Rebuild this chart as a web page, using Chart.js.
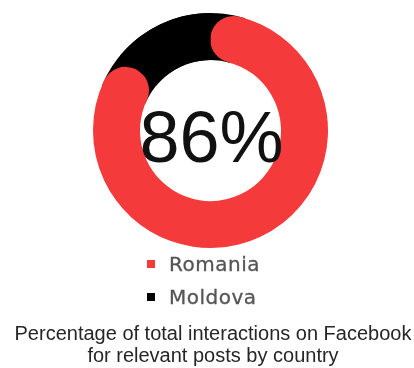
<!DOCTYPE html>
<html lang="en">
<head>
  <meta charset="UTF-8">
  <title>Facebook interactions by country</title>
  <script src="https://cdn.jsdelivr.net/npm/chart.js"></script>
  <style>
    body { margin: 0; background: #fff; }
    #wrap { position: relative; width: 414px; height: 368px; overflow: hidden; }
    #shareChart { position: absolute; left: 0; top: 0; }
    #legend { position: absolute; left: 0; top: 247.5px; width: 414px; }
    .legend-row { height: 33px; display: flex; align-items: center; padding-left: 147px; }
    .legend-box { width: 8px; height: 8px; margin-right: 14px; }
    .legend-text { font: 20px "DejaVu Sans", sans-serif; letter-spacing: 0.5px; color: #555; -webkit-text-stroke: 0.3px #555; }
    #caption { position: absolute; left: 0; top: 322px; width: 414px; box-sizing: border-box; padding-left: 12px;
      text-align: center; font: 20px "Liberation Sans", Arial, sans-serif; line-height: 22px; color: #262626; white-space: nowrap; }
  </style>
</head>
<body>
  <div id="wrap">
    <canvas id="shareChart" width="414" height="261"></canvas>
    <div id="legend"></div>
    <div id="caption">Percentage of total interactions on Facebook<br>for relevant posts by country</div>
  </div>

  <script>
    const countries = ['Romania', 'Moldova'];
    const shares = [86, 14];
    const colors = ['#f43a3a', '#000000'];

    // dark track under the small slice so the rounded ends of the big slice sit on it
    const trackPlugin = {
      id: 'track',
      beforeDatasetsDraw(chart) {
        const meta = chart.getDatasetMeta(0);
        const small = meta.data[1];
        if (!small) return;
        const { x, y, innerRadius, outerRadius, startAngle, endAngle } = small.getProps(['x', 'y', 'innerRadius', 'outerRadius', 'startAngle', 'endAngle'], true);
        const pad = (outerRadius - innerRadius) / 2 / ((outerRadius + innerRadius) / 2) * 1.2;
        const ctx = chart.ctx;
        ctx.save();
        ctx.beginPath();
        ctx.arc(x, y, outerRadius, startAngle - pad, endAngle + pad);
        ctx.arc(x, y, innerRadius, endAngle + pad, startAngle - pad, true);
        ctx.closePath();
        ctx.fillStyle = colors[1];
        ctx.fill();
        ctx.restore();
      }
    };

    // big percentage in the hole
    const centerText = {
      id: 'centerText',
      afterDraw(chart) {
        const arc = chart.getDatasetMeta(0).data[0];
        const total = shares.reduce((a, b) => a + b, 0);
        const ctx = chart.ctx;
        ctx.save();
        ctx.font = '72px "Liberation Sans", Arial, sans-serif';
        ctx.fillStyle = '#111';
        ctx.textAlign = 'center';
        ctx.textBaseline = 'alphabetic';
        ctx.fillText(Math.round(shares[0] / total * 100) + '%', arc.x + 1, arc.y + 31);
        ctx.restore();
      }
    };

    new Chart(document.getElementById('shareChart').getContext('2d'), {
      type: 'doughnut',
      data: {
        labels: countries,
        datasets: [{
          data: shares,
          backgroundColor: colors,
          borderWidth: 0,
          borderRadius: (c) => c.dataIndex === 0 ? 40 : 0
        }]
      },
      options: {
        responsive: false,
        animation: false,
        cutout: '60%',
        rotation: 0,
        layout: { padding: { top: 13, bottom: 13, left: 7, right: 0 } },
        plugins: { legend: { display: false }, tooltip: { enabled: false } }
      },
      plugins: [trackPlugin, centerText]
    });

    // legend rows built from the same arrays
    const legend = document.getElementById('legend');
    countries.forEach((name, i) => {
      const row = document.createElement('div');
      row.className = 'legend-row';
      row.innerHTML = `<span class="legend-box" style="background:${colors[i]}"></span><span class="legend-text">${name}</span>`;
      legend.appendChild(row);
    });
  </script>
</body>
</html>
